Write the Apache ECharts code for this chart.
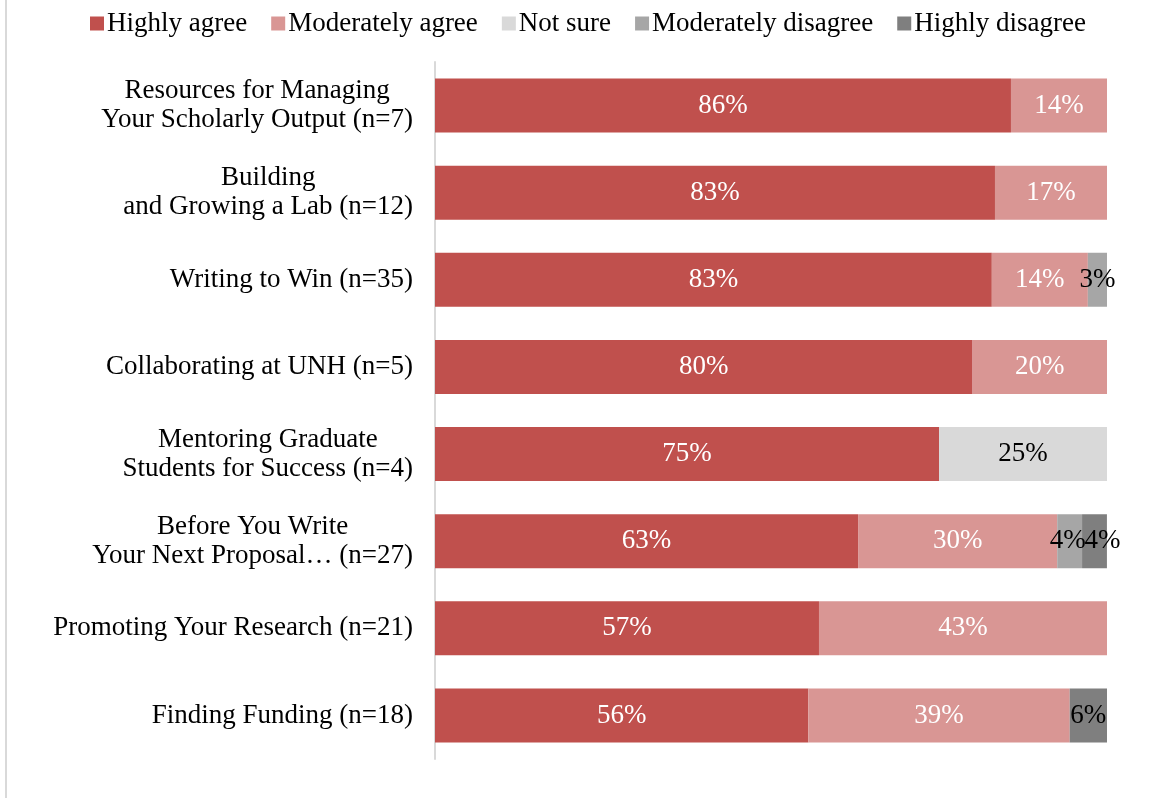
<!DOCTYPE html>
<html>
<head>
<meta charset="utf-8">
<script src="https://cdn.jsdelivr.net/npm/echarts@6/dist/echarts.min.js"></script>
<style>
  html, body { margin: 0; padding: 0; background: #ffffff; }
  #chart { width: 1153px; height: 798px; }
</style>
</head>
<body>
<div id="chart"></div>
<script>
// Workshop ratings, share of respondents (%) per answer
const categories = [
  'Resources for Managing\nYour Scholarly Output (n=7)',
  'Building\nand Growing a Lab (n=12)',
  'Writing to Win (n=35)',
  'Collaborating at UNH (n=5)',
  'Mentoring Graduate\nStudents for Success (n=4)',
  'Before You Write\nYour Next Proposal\u2026 (n=27)',
  'Promoting Your Research (n=21)',
  'Finding Funding (n=18)'
];
const highlyAgree        = [85.71, 83.33, 82.86, 80, 75, 62.96, 57.14, 55.56];
const moderatelyAgree    = [14.29, 16.67, 14.29, 20, 0, 29.63, 42.86, 38.89];
const notSure            = [0, 0, 0, 0, 25, 0, 0, 0];
const moderatelyDisagree = [0, 0, 2.86, 0, 0, 3.70, 0, 0];
const highlyDisagree     = [0, 0, 0, 0, 0, 3.70, 0, 5.56];

const FONT = '"Liberation Serif", "Times New Roman", serif';
const FS = 27;

// When both disagree segments of a row are present, nudge their labels apart
function withLabelNudge(values, dx) {
  return values.map((v, i) => {
    if (moderatelyDisagree[i] > 0 && highlyDisagree[i] > 0) {
      return { value: v, label: { offset: [dx, 0] } };
    }
    return v;
  });
}

function makeSeries(name, data, color, labelColor) {
  return {
    name: name,
    type: 'bar',
    stack: 'total',
    barWidth: 54,
    data: data,
    itemStyle: { color: color },
    emphasis: { disabled: true },
    label: {
      show: true,
      position: 'inside',
      color: labelColor,
      fontFamily: FONT,
      fontSize: FS,
      formatter: p => (p.value > 0 ? Math.round(p.value) + '%' : '')
    }
  };
}

const chart = echarts.init(document.getElementById('chart'), null, { renderer: 'canvas' });
chart.setOption({
  animation: false,
  backgroundColor: '#ffffff',
  textStyle: { fontFamily: FONT },
  graphic: [{
    type: 'line',
    shape: { x1: 6, y1: 0, x2: 6, y2: 798 },
    style: { stroke: '#d9d9d9', lineWidth: 2 },
    silent: true
  }],
  legend: {
    top: 5,
    left: 85,
    itemWidth: 14,
    itemHeight: 14,
    itemGap: 24,
    icon: 'rect',
    textStyle: { fontFamily: FONT, fontSize: FS, color: '#000000', padding: [0, 0, 0, -2] },
    selectedMode: false
  },
  grid: { left: 435, right: 46, top: 62, bottom: 39, containLabel: false },
  xAxis: { type: 'value', min: 0, max: 100, show: false },
  yAxis: {
    type: 'category',
    data: categories,
    inverse: true,
    axisLine: { show: true, lineStyle: { color: '#d9d9d9', width: 2 } },
    axisTick: { show: false },
    splitLine: { show: false },
    axisLabel: {
      margin: 22,
      color: '#000000',
      fontFamily: FONT,
      fontSize: FS,
      lineHeight: 29,
      formatter: v => v.split('\n').map(l => '{c|' + l + '}').join('\n'),
      rich: { c: { align: 'center', fontFamily: FONT, fontSize: FS, lineHeight: 29, color: '#000000' } }
    }
  },
  series: [
    makeSeries('Highly agree', highlyAgree, '#c0504d', '#ffffff'),
    makeSeries('Moderately agree', moderatelyAgree, '#d99694', '#ffffff'),
    makeSeries('Not sure', notSure, '#d9d9d9', '#000000'),
    makeSeries('Moderately disagree', withLabelNudge(moderatelyDisagree, -2), '#a6a6a6', '#000000'),
    makeSeries('Highly disagree', withLabelNudge(highlyDisagree, 8), '#7f7f7f', '#000000')
  ]
});
</script>
</body>
</html>
